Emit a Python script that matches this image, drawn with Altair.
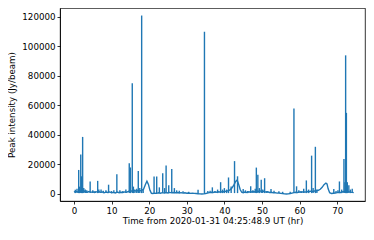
import altair as alt
import pandas as pd

# Slowly varying baseline (time in hr, peak intensity in Jy/beam)
base_t = [0.0, 0.5, 1.0, 1.5, 2.0, 2.5, 3.0, 3.5, 4.0, 4.5, 5.0, 5.5, 6.0, 6.5, 7.0, 7.5,
          8.0, 8.5, 9.0, 9.5, 10.0, 10.5, 11.0, 11.5, 12.0, 12.5, 13.0, 13.5, 14.0, 14.5,
          15.0, 15.5, 16.0, 16.5, 17.0, 17.5, 18.0, 18.5, 19.0, 19.4, 19.8, 20.2, 20.6,
          21.0, 21.5, 22.0, 22.5, 23.0, 23.5, 24.0, 24.5, 25.0, 25.5, 26.0, 26.5, 27.0,
          27.5, 28.0, 28.5, 29.0, 29.5, 30.0, 30.5, 31.0, 31.5, 32.0, 32.5, 33.0, 33.5,
          34.0, 34.5, 35.0, 35.5, 36.0, 36.5, 37.0, 37.5, 38.0, 38.5, 39.0, 39.5, 40.0,
          40.5, 41.0, 41.5, 42.0, 42.5, 43.0, 43.4, 43.8, 44.2, 44.6, 45.0, 45.5, 46.0,
          46.5, 47.0, 47.5, 48.0, 48.5, 49.0, 49.5, 50.0, 50.5, 51.0, 51.5, 52.0, 52.5,
          53.0, 53.5, 54.0, 54.5, 55.0, 55.5, 56.0, 56.5, 57.0, 57.5, 58.0, 58.5, 59.0,
          59.5, 60.0, 60.5, 61.0, 61.5, 62.0, 62.5, 63.0, 63.5, 64.0, 64.5, 65.0, 65.5,
          66.0, 66.5, 67.0, 67.3, 67.6, 68.0, 68.5, 69.0, 69.5, 70.0, 70.5, 71.0, 71.5,
          72.0, 72.5, 73.0, 73.5, 74.0, 74.4]
base_v = [1200, 1900, 1300, 2100, 1600, 2300, 1400, 1200, 1700, 1100, 1500, 1000, 1400,
          1800, 1100, 1400, 800, 1300, 1000, 1400, 800, 1100, 700, 1300, 900, 1200, 1000,
          1400, 1200, 1800, 2200, 1900, 2400, 2000, 2300, 2100, 2500, 3200, 6500, 8700,
          6500, 2500, 500, 300, 600, 400, 800, 500, 900, 600, 1000, 700, 1100, 800, 1000,
          800, 1000, 700, 900, 600, 800, 500, 700, 400, 600, 400, 300, 200, 100, 0, 100,
          300, 600, 900, 1200, 1000, 1400, 1200, 1500, 1300, 1700, 1500, 1900, 2200, 2800,
          4000, 6000, 8500, 9500, 6500, 3000, 1200, 900, 1300, 1000, 1500, 1200, 1700,
          1400, 2000, 1700, 2100, 1600, 1900, 1300, 1500, 1000, 1200, 800, 900, 600, 700,
          400, 300, 100, 0, 100, 300, 600, 900, 1200, 1000, 1400, 1200, 1500, 1300, 1700,
          1500, 1900, 1700, 2000, 2200, 2500, 3200, 4500, 6300, 7400, 6800, 3500, 900,
          300, 500, 700, 900, 1200, 1000, 1500, 1700, 2000, 1600, 1300, 1100, 900]

# Flare spikes (time in hr, peak intensity in Jy/beam)
spike_t = [0.35, 0.8, 1.25, 1.5, 1.8, 2.05, 2.3, 2.6, 3.0, 3.4, 4.3, 5.0, 5.6, 6.3, 6.6,
           7.2, 7.8, 8.5, 9.2, 10.0, 10.6, 11.4, 12.2, 13.0, 13.8, 14.7, 15.0, 15.5, 15.8,
           16.2, 16.7, 17.1, 17.5, 18.0, 18.4, 21.3, 22.0, 22.7, 23.6, 24.1, 24.5, 25.2,
           26.0, 26.7, 27.3, 28.0, 29.0, 30.5, 33.0, 34.7, 35.6, 36.2, 36.8, 37.5, 38.2,
           39.0, 39.5, 40.0, 40.6, 41.1, 41.8, 42.7, 43.5, 45.0, 45.6, 46.2, 47.0, 47.6,
           48.2, 48.5, 48.9, 49.3, 49.8, 50.2, 50.7, 51.3, 52.4, 53.2, 54.5, 55.5, 57.5,
           58.5, 59.2, 59.8, 60.4, 61.1, 61.8, 62.4, 63.2, 63.6, 64.2, 64.6, 69.1, 69.7,
           70.2, 70.6, 71.2, 71.8, 72.05, 72.25, 72.45, 72.7, 73.1, 73.5, 74.0]
spike_v = [2900, 3500, 16300, 5000, 26800, 12000, 38700, 4000, 3000, 2500, 8500, 2500,
           2000, 8900, 3000, 3000, 2200, 2500, 6300, 2000, 2500, 13400, 2500, 2000, 3000,
           20800, 18000, 75000, 5000, 3000, 3500, 15600, 4000, 121000, 3000, 11900, 11900,
           4500, 14100, 4000, 19300, 6000, 17000, 4000, 2500, 2200, 1800, 1500, 2900,
           110000, 2000, 2200, 4500, 2000, 3000, 8000, 3000, 4000, 3000, 11200, 5000, 22300,
           12000, 3400, 2500, 2000, 5200, 2500, 3500, 17900, 13000, 4000, 9600, 3000, 10700,
           2000, 3400, 2200, 1800, 1500, 1500, 58000, 5200, 2500, 2000, 3600, 9200, 3000,
           26000, 4000, 32000, 3000, 3400, 2000, 2500, 8500, 3000, 23700, 8000, 94000,
           55000, 8000, 6000, 3000, 3500]

x_ticks = [0, 10, 20, 30, 40, 50, 60, 70]
y_ticks = [0, 20000, 40000, 60000, 80000, 100000, 120000]

base_df = pd.DataFrame({"t": base_t, "v": base_v})
spike_df = pd.DataFrame({"t": spike_t, "v": spike_v})

FONT = "DejaVu Sans"
BLUE = "#1f77b4"

xscale = alt.Scale(domain=[-3.72, 77.4], nice=False, zero=False)
yscale = alt.Scale(domain=[-4750, 126100], nice=False, zero=False)

xaxis = alt.Axis(values=x_ticks, title="Time from 2020-01-31 04:25:48.9 UT (hr)",
                 grid=False, format="d", titlePadding=2, labelOverlap=False)
yaxis = alt.Axis(values=y_ticks, title="Peak intensity (Jy/beam)", grid=False,
                 format="d", titlePadding=5, labelOverlap=False, labelBound=False)

line = alt.Chart(base_df).mark_line(color=BLUE, strokeWidth=1.4, clip=True).encode(
    x=alt.X("t:Q", scale=xscale, axis=xaxis),
    y=alt.Y("v:Q", scale=yscale, axis=yaxis),
)

rules = alt.Chart(spike_df).mark_rule(color=BLUE, strokeWidth=1.4, clip=True).encode(
    x=alt.X("t:Q", scale=xscale, axis=xaxis),
    y=alt.Y("v:Q", scale=yscale, axis=yaxis),
    y2=alt.datum(600),
)

chart = alt.layer(line, rules).properties(
    width=305, height=193,
    padding={"left": 52, "top": 0, "right": 1, "bottom": 26},
    autosize="none",
).configure_view(
    stroke="black", strokeWidth=0.8
).configure_axis(
    labelFont=FONT, titleFont=FONT, labelFontSize=8.7, titleFontSize=8.7,
    labelColor="black", titleColor="black", titleFontWeight="normal",
    domainColor="black", domainWidth=0.8, tickColor="black", tickWidth=0.8,
    tickSize=3, labelPadding=2, labelOverlap=False,
)

chart.save("out.html", embed_options={"renderer": "svg", "actions": False})
